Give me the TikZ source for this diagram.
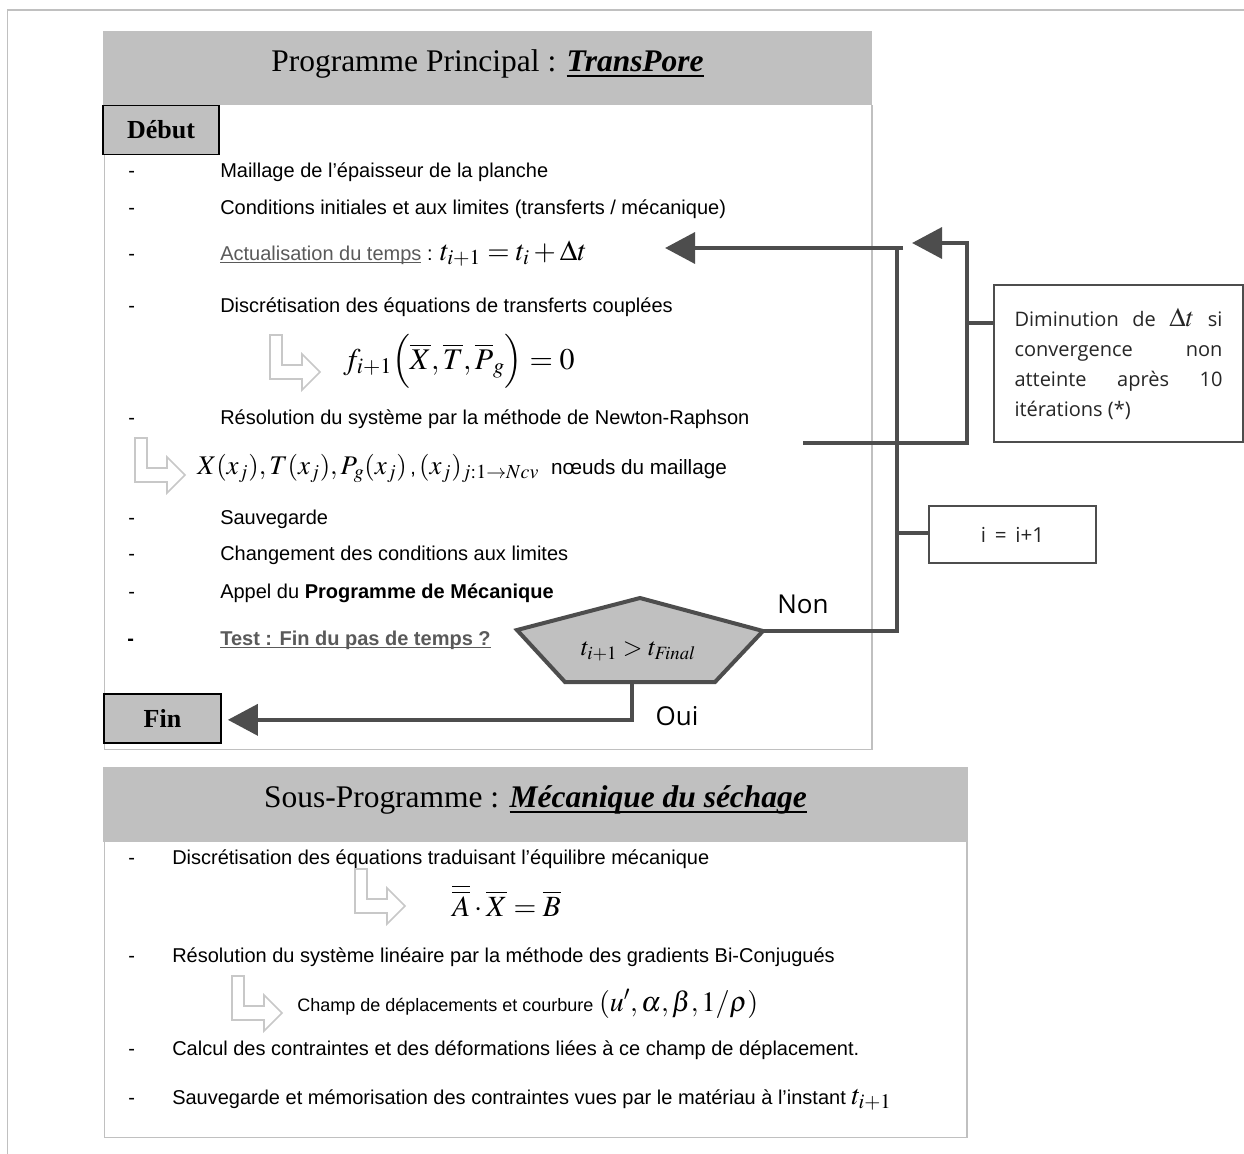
\documentclass[tikz,border=0pt]{standalone}
\usepackage{mathptmx}
\usepackage[no-math]{fontspec}
\setmainfont{Liberation Serif}
\setsansfont{Liberation Sans}
\newfontfamily\comicf{Open Sans}
\usetikzlibrary{arrows.meta}
\definecolor{hdr}{HTML}{C0C0C0}
\definecolor{dk}{HTML}{4D4D4D}
\definecolor{lt}{HTML}{C8C8C8}
\definecolor{ulc}{HTML}{5A5A5A}
\newcommand{\myul}[2]{\setbox0\hbox{#2}\rlap{\rule[-0.16em]{\wd0}{#1}}\box0}
\tikzset{
  txt/.style={anchor=base west, inner sep=0pt, font=\sffamily\fontsize{15}{18}\selectfont},
  framel/.style={draw=hdr, line width=1.3pt},
  conn/.style={draw=dk, line width=3.4pt, line join=miter},
  arr/.style={conn, -{Triangle[length=22.5pt,width=23pt]}},
  lbox/.style={draw=dk, line width=1.2pt, fill=white},
  term/.style={draw=black, line width=1.2pt, fill=hdr, minimum width=87pt, minimum height=36.75pt, inner sep=0pt, font=\bfseries\fontsize{19.5}{20}\selectfont},
  titl/.style={inner sep=0pt, font=\fontsize{23.6}{26}\selectfont},
  comicl/.style={inner sep=0pt, font=\comicf\fontsize{19.5}{20}\selectfont, text=black},
  bentarrow/.pic={\draw[lt, line width=1.2pt, line join=miter] (0,0) -- (12,0) -- (12,30) -- (32,30) -- (32,19) -- (50,37) -- (32,55) -- (32,44) -- (0,44) -- cycle;},
}
\begin{document}
\begin{tikzpicture}[x=0.75pt,y=-0.75pt]
\useasboundingbox (0,0) rectangle (1244,1153);
\fill[white] (0,0) rectangle (1244,1153);
\draw[framel] (7.5,1175) -- (7.5,10) -- (1265,10);

% ---------- main programme box
\fill[hdr] (103,31) rectangle (872,105);
\draw[framel] (104.5,105) -- (104.5,749.5) -- (872,749.5) -- (872,105);
\node[titl] (mtitle) at (487.5,64) {Programme Principal : \myul{1.2pt}{\textbf{\textit{TransPore}}}};

\node[term] (debut) at (161,130) {Début};
\node[term, minimum width=87.75pt] (fin) at (162.5,718.5) {Fin};

% dashes
\foreach \yy/\nm in {177/d1,214/d2,260/d3,312/d4,424/d5,524/d6,560/d7,598/d8}
  \node[txt] (\nm) at (128,\yy) {-};
\node[txt, font=\sffamily\bfseries\fontsize{15}{18}\selectfont] (d9) at (127,645) {-};

\node[txt] (l1) at (220,177) {Maillage de l’épaisseur de la planche};
\node[txt] (l2) at (220,214) {Conditions initiales et aux limites (transferts / mécanique)};
\node[txt] (l3) at (220,260) {{\color{ulc}\myul{0.6pt}{Actualisation du temps}} : {\fontsize{21.5}{21}\selectfont$t_{i+1} = t_i + \Delta t$}};
\node[txt] (l4) at (220,312) {Discrétisation des équations de transferts couplées};
\pic at (270,335) {bentarrow};
\node[txt] (l5) at (343,369) {\fontsize{22.5}{22}\selectfont$f_{i+1}\Bigl(\overline{X},\overline{T},\overline{P}_{g}\Bigr) = 0$};
\node[txt] (l6) at (220,424) {Résolution du système par la méthode de Newton-Raphson};
\pic at (135,438) {bentarrow};
\node[txt] (l7) at (197,474) {{\fontsize{20.2}{21}\selectfont$X(x_j),T(x_j),P_g(x_j)$}\,,\,{\fontsize{20.2}{21}\selectfont$(x_j)_{j:1\rightarrow Ncv}$}\hspace{9pt}{\fontsize{15.5}{16}\selectfont nœuds du maillage}};
\node[txt] (l8) at (220,524) {Sauvegarde};
\node[txt] (l9) at (220,560) {Changement des conditions aux limites};
\node[txt] (l10) at (220,598) {Appel du \textbf{Programme de Mécanique}};
\node[txt] (l11) at (220,645) {\bfseries\color{ulc}\myul{1.1pt}{Test : Fin du pas de temps ?}};

% test pentagon
\coordinate (pT) at (640,598);
\coordinate (pR) at (763,631);
\coordinate (pBR) at (715,682);
\coordinate (pBL) at (565,682);
\coordinate (pL) at (517,630);
\draw[draw=dk, line width=3pt, fill=hdr, line join=miter] (pT) -- (pR) -- (pBR) -- (pBL) -- (pL) -- cycle;
\node[inner sep=0pt, font=\fontsize{19}{20}\selectfont] (test) at (638,651) {$t_{i+1} > t_{\mathit{Final}}$};
\coordinate (pOut) at (632,682);

% side boxes
\node[lbox, minimum width=186.75pt, minimum height=117.75pt, text width=156pt, inner xsep=15.4pt, align=justify, font=\comicf\fontsize{15}{22.5}\selectfont, text=black!85] (dim) at (1118.5,363.5)
  {\hyphenpenalty=10000 Diminution de {\fontsize{20}{19}\selectfont$\Delta t$} si\linebreak convergence non\linebreak atteinte après 10\linebreak itérations (*)};
\node[lbox, minimum width=125.25pt, minimum height=42.75pt, font=\comicf\fontsize{15.5}{17}\selectfont, text=black!85] (inc) at (1012.5,534.5) {i \,=\, i+1};

% connectors
\coordinate (vtop) at (897,248);
\coordinate (vtopr) at (903,248);
\coordinate (a1) at (665,248);
\coordinate (nr) at (803,443);
\coordinate (k2) at (967,243);
\coordinate (a2) at (912,243);
\coordinate (k1) at (967,323);
\coordinate (kinc) at (897,533);
\draw[conn] (pR) -| (vtop);
\draw[arr] (vtopr) -- (a1);
\draw[arr] (nr) -| (k2) -- (a2);
\draw[conn] (k1) -- (k1 -| dim.west);
\draw[conn] (kinc) -- (kinc -| inc.west);
\draw[arr] (pOut) |- ([xshift=4.5pt,yshift=-1pt]fin.east);
\node[comicl] (non) at (803,604) {Non};
\node[comicl] (oui) at (677,716) {Oui};

% ---------- sub programme box
\fill[hdr] (103,767) rectangle (968,842);
\draw[framel] (104.5,842) -- (104.5,1137.5) -- (967,1137.5) -- (967,842);
\node[titl] (stitle) at (535.5,800) {Sous-Programme : \myul{1.2pt}{\textbf{\textit{Mécanique du séchage}}}};
\foreach \yy/\nm in {864/s1,962/s2,1055/s3,1104/s4}
  \node[txt] (\nm) at (128,\yy) {-};
\node[txt] (m1) at (172,864) {Discrétisation des équations traduisant l’équilibre mécanique};
\pic at (355,869) {bentarrow};
\node[txt] (m2) at (452,916) {\fontsize{22}{22}\selectfont$\overline{\overline{A}}\cdot\overline{X} = \overline{B}$};
\node[txt] (m3) at (172,962) {Résolution du système linéaire par la méthode des gradients Bi-Conjugués};
\pic at (232,976) {bentarrow};
\node[txt] (m4) at (297,1011) {{\fontsize{13.5}{16}\selectfont Champ de déplacements et courbure} {\fontsize{21}{21}\selectfont$(u',\alpha,\beta,1/\rho)$}};
\node[txt] (m5) at (172,1055) {Calcul des contraintes et des déformations liées à ce champ de déplacement.};
\node[txt] (m6) at (172,1104) {Sauvegarde et mémorisation des contraintes vues par le matériau à l’instant {\fontsize{21}{21}\selectfont$t_{i+1}$}};
\end{tikzpicture}
\end{document}
